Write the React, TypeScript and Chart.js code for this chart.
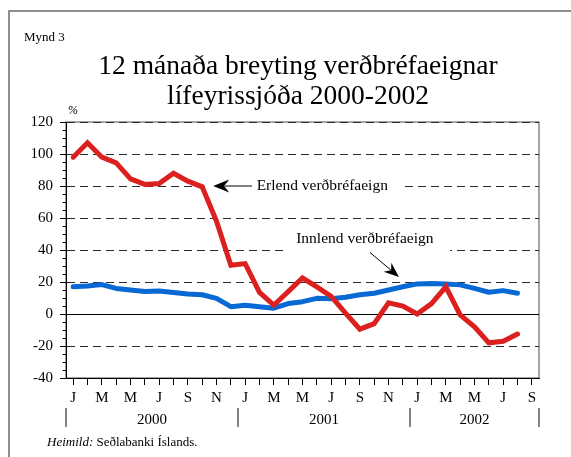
import React, { useEffect, useRef } from 'react';
import { Chart, registerables } from 'chart.js';

Chart.register(...registerables);

// Month categories Jan 2000 – Sep 2002
const monthLabels = [
  'J', 'F', 'M', 'A', 'M', 'J', 'J', 'A', 'S', 'O', 'N', 'D',
  'J', 'F', 'M', 'A', 'M', 'J', 'J', 'A', 'S', 'O', 'N', 'D',
  'J', 'F', 'M', 'A', 'M', 'J', 'J', 'A', 'S',
];
const years = ['2000', '2001', '2002'];
const yearStartIndex = [0, 12, 24];

// Erlend verðbréfaeign (foreign securities), 12-month change %
const erlend = [
  98, 107, 98, 94.5, 84.5, 81, 81.5, 88, 83, 79.5, 58, 30.5,
  31.5, 13.5, 5.5, 14, 22.5, 17, 11, 0.5, -9.5, -6, 7, 5,
  0, 6.5, 17, -0.5, -8, -18, -17, -12.5, null,
];
// Innlend verðbréfaeign (domestic securities), 12-month change %
const innlend = [
  17, 17.5, 18.4, 16, 15, 14, 14.4, 13.4, 12.5, 12, 9.8, 4.6,
  5.4, 4.6, 3.6, 6.5, 7.7, 9.8, 9.6, 10.5, 12, 13, 15, 17,
  18.8, 19, 18.8, 18.2, 16, 13.6, 14.6, 13, null,
];

const yMin = -40;
const yMax = 120;
const yStep = 20;
const yMinorStep = 5;

const titleLines = ['12 mánaða breyting verðbréfaeignar', 'lífeyrissjóða 2000-2002'];
const figLabel = 'Mynd 3';
const unitLabel = '%';
const sourceItalic = 'Heimild:';
const sourceText = ' Seðlabanki Íslands.';
const erlendLabel = 'Erlend verðbréfaeign';
const innlendLabel = 'Innlend verðbréfaeign';

const SERIF = "'Liberation Serif', 'Times New Roman', serif";
const RED = '#dc1f1f';
const BLUE = '#0868d4';

function drawArrow(ctx: CanvasRenderingContext2D, x1: number, y1: number, x2: number, y2: number, len: number, half: number) {
  const ang = Math.atan2(y2 - y1, x2 - x1);
  ctx.beginPath();
  ctx.moveTo(x1, y1);
  ctx.lineTo(x2 - Math.cos(ang) * len * 0.7, y2 - Math.sin(ang) * len * 0.7);
  ctx.stroke();
  ctx.save();
  ctx.translate(x2, y2);
  ctx.rotate(ang);
  ctx.beginPath();
  ctx.moveTo(0, 0);
  ctx.lineTo(-len, -half);
  ctx.lineTo(-len * 0.68, 0);
  ctx.lineTo(-len, half);
  ctx.closePath();
  ctx.fill();
  ctx.restore();
}

const decorPlugin = {
  id: 'decor',
  beforeDraw(chart: any) {
    const { ctx, chartArea: a } = chart;
    ctx.save();
    // outer frame (left and top)
    ctx.strokeStyle = '#8e8e8e';
    ctx.lineWidth = 2;
    ctx.beginPath();
    ctx.moveTo(9, 457);
    ctx.lineTo(9, 11);
    ctx.lineTo(571, 11);
    ctx.stroke();
    // plot box
    ctx.strokeStyle = '#6a6a6a';
    ctx.lineWidth = 1.2;
    ctx.strokeRect(a.left, a.top, a.right - a.left, a.bottom - a.top);
    ctx.restore();
  },
  beforeDatasetsDraw(chart: any) {
    const { ctx, chartArea: a } = chart;
    const xs = chart.scales.x;
    const ys = chart.scales.y;
    ctx.save();
    // white backgrounds behind annotations
    ctx.fillStyle = '#ffffff';
    const ey = ys.getPixelForValue(80);
    const ex1 = xs.getPixelForValue(9.3);
    const ex2 = xs.getPixelForValue(22.9);
    ctx.fillRect(ex1, ey - 8, ex2 - ex1, 16);
    const iy = ys.getPixelForValue(46.9);
    const ix1 = xs.getPixelForValue(14.97);
    const ix2 = xs.getPixelForValue(26.3);
    ctx.fillRect(ix1, iy - 11, ix2 - ix1, 24);
    // solid zero line
    const zy = Math.round(ys.getPixelForValue(0)) + 0.5;
    ctx.strokeStyle = '#000';
    ctx.lineWidth = 1;
    ctx.beginPath();
    ctx.moveTo(a.left, zy);
    ctx.lineTo(a.right, zy);
    ctx.stroke();
    ctx.restore();
  },
  afterDraw(chart: any) {
    const { ctx, chartArea: a } = chart;
    const xs = chart.scales.x;
    const ys = chart.scales.y;
    ctx.save();
    ctx.fillStyle = '#000';
    ctx.strokeStyle = '#000';

    // figure label
    ctx.font = `13px ${SERIF}`;
    ctx.textAlign = 'left';
    ctx.textBaseline = 'alphabetic';
    ctx.fillText(figLabel, 24, 41);

    // title
    ctx.font = `27.5px ${SERIF}`;
    ctx.textAlign = 'center';
    ctx.fillText(titleLines[0], 298, 74);
    ctx.fillText(titleLines[1], 298, 104);

    // unit
    ctx.font = `italic 12px ${SERIF}`;
    ctx.fillText(unitLabel, 73, 114);

    // minor y ticks
    ctx.lineWidth = 1;
    for (let v = yMin; v <= yMax; v += yMinorStep) {
      if (v % yStep === 0) continue;
      const py = Math.round(ys.getPixelForValue(v)) + 0.5;
      ctx.beginPath();
      ctx.moveTo(a.left - 3.5, py);
      ctx.lineTo(a.left, py);
      ctx.stroke();
    }

    // year separators and labels
    const step = xs.getPixelForValue(1) - xs.getPixelForValue(0);
    const bounds = yearStartIndex.map((i) => xs.getPixelForValue(i) - step / 2);
    bounds.push(a.right);
    ctx.strokeStyle = '#333';
    ctx.lineWidth = 1.2;
    bounds.forEach((bx) => {
      ctx.beginPath();
      ctx.moveTo(bx, 408);
      ctx.lineTo(bx, 427);
      ctx.stroke();
    });
    ctx.font = `15px ${SERIF}`;
    ctx.textAlign = 'center';
    years.forEach((yr, k) => {
      ctx.fillText(yr, (bounds[k] + bounds[k + 1]) / 2, 424);
    });

    // source
    ctx.textAlign = 'left';
    ctx.font = `italic 13px ${SERIF}`;
    ctx.fillText(sourceItalic, 47, 446);
    const w = ctx.measureText(sourceItalic).width;
    ctx.font = `13px ${SERIF}`;
    ctx.fillText(sourceText, 47 + w, 446);

    // annotations
    ctx.font = `15.5px ${SERIF}`;
    ctx.textBaseline = 'middle';
    ctx.textAlign = 'left';
    const ey = ys.getPixelForValue(80);
    ctx.fillText(erlendLabel, xs.getPixelForValue(12.8), ey);
    ctx.textAlign = 'center';
    ctx.fillText(innlendLabel, xs.getPixelForValue(20.35), ys.getPixelForValue(46.9));

    ctx.strokeStyle = '#000';
    ctx.fillStyle = '#000';
    ctx.lineWidth = 1;
    drawArrow(ctx, xs.getPixelForValue(12.47), ey, xs.getPixelForValue(9.77), ey, 16, 6.5);
    drawArrow(
      ctx,
      xs.getPixelForValue(20.7), ys.getPixelForValue(38.5),
      xs.getPixelForValue(22.73), ys.getPixelForValue(23.2),
      15, 6,
    );
    ctx.restore();
  },
};

export default function App() {
  const canvasRef = useRef<HTMLCanvasElement | null>(null);

  useEffect(() => {
    const canvas = canvasRef.current;
    if (!canvas) return;
    const chart = new Chart(canvas, {
      type: 'line',
      data: {
        labels: monthLabels,
        datasets: [
          {
            label: erlendLabel,
            data: erlend,
            borderColor: RED,
            borderWidth: 5,
            pointRadius: 0,
            tension: 0,
            borderJoinStyle: 'miter',
            borderCapStyle: 'round',
            fill: false,
            spanGaps: false,
          },
          {
            label: innlendLabel,
            data: innlend,
            borderColor: BLUE,
            borderWidth: 5,
            pointRadius: 0,
            tension: 0,
            borderJoinStyle: 'round',
            borderCapStyle: 'round',
            fill: false,
          },
        ],
      },
      options: {
        responsive: false,
        animation: false,
        events: [],
        layout: { padding: { left: 0, right: 32, top: 122, bottom: 0 } },
        plugins: {
          legend: { display: false },
          tooltip: { enabled: false },
          title: { display: false },
        },
        scales: {
          x: {
            type: 'category',
            offset: true,
            grid: {
              drawOnChartArea: false,
              drawTicks: true,
              tickLength: 7,
              tickColor: '#000',
              offset: false,
              lineWidth: 1,
            },
            border: { display: true, color: '#000', width: 1 },
            ticks: {
              autoSkip: false,
              maxRotation: 0,
              minRotation: 0,
              padding: 4,
              color: '#000',
              font: { family: SERIF, size: 15 },
              callback: (_v: any, i: number) => (i % 2 === 0 ? monthLabels[i] : ''),
            },
            afterFit: (s: any) => {
              s.height = 79;
            },
          },
          y: {
            type: 'linear',
            min: yMin,
            max: yMax,
            ticks: {
              stepSize: yStep,
              padding: 7,
              color: '#000',
              font: { family: SERIF, size: 15 },
            },
            grid: {
              color: (c: any) => (c.tick && (c.tick.value === yMin || c.tick.value === 0) ? 'rgba(0,0,0,0)' : '#2a2a2a'),
              tickColor: '#000',
              tickLength: 6,
              lineWidth: 1,
            },
            border: { display: true, color: '#000', width: 1, dash: [8, 5] },
            afterFit: (s: any) => {
              s.width = 66;
            },
          },
        },
      },
      plugins: [decorPlugin],
    } as any);
    return () => chart.destroy();
  }, []);

  return (
    <div style={{ position: 'fixed', left: 0, top: 0, width: 571, height: 457, background: '#fff' }}>
      <canvas ref={canvasRef} width={571} height={457} style={{ width: 571, height: 457, display: 'block' }} />
    </div>
  );
}
